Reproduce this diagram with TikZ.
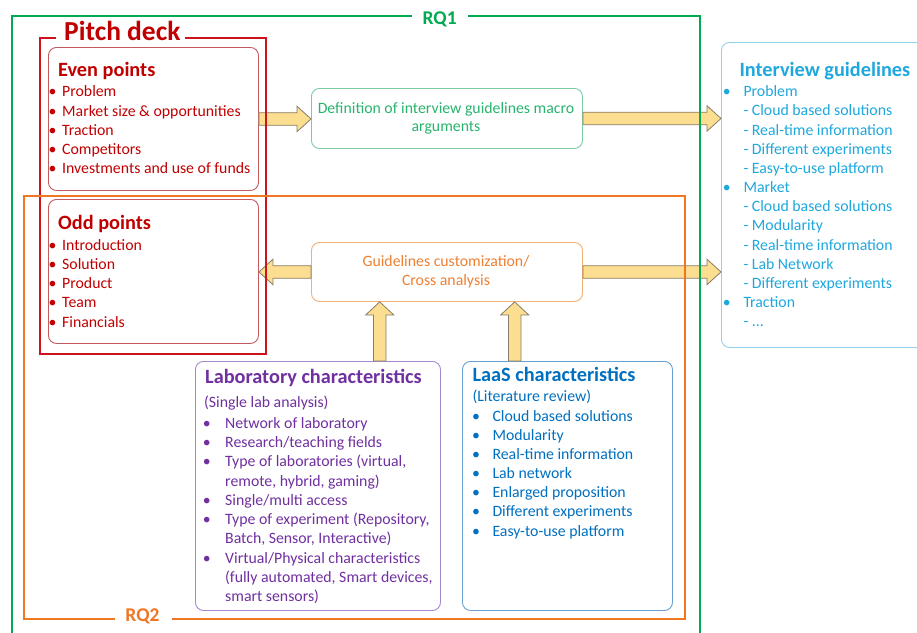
\documentclass[tikz,border=0pt]{standalone}
\usepackage{fontspec}
\setmainfont{Carlito}
\usetikzlibrary{calc}
\definecolor{rqgreen}{RGB}{0,170,80}
\definecolor{pdred}{RGB}{205,20,30}
\definecolor{tred}{RGB}{192,0,0}
\definecolor{evenb}{RGB}{195,90,95}
\definecolor{rqorange}{RGB}{240,118,35}
\definecolor{gorange}{RGB}{238,128,50}
\definecolor{gborder}{RGB}{245,175,115}
\definecolor{dgreen}{RGB}{40,180,110}
\definecolor{dborder}{RGB}{120,205,165}
\definecolor{tpurple}{RGB}{112,48,160}
\definecolor{bpurple}{RGB}{165,135,205}
\definecolor{tblue}{RGB}{0,112,192}
\definecolor{bblue}{RGB}{105,160,210}
\definecolor{tcyan}{RGB}{30,168,222}
\definecolor{bcyan}{RGB}{145,210,235}
\definecolor{arrowfill}{RGB}{252,222,145}
\definecolor{arrowdraw}{RGB}{135,125,105}
\tikzset{
  frame/.style={line width=2.3pt},
  box/.style={draw, rounded corners=8pt, line width=0.9pt, fill=white, anchor=north west, inner sep=0pt},
  fat/.style={fill=arrowfill, draw=arrowdraw, line width=0.8pt, line join=miter},
  txt/.style={anchor=base west, inner sep=0pt, font=\fontsize{15.8}{18}\selectfont},
  ctxt/.style={anchor=base, inner sep=0pt, font=\fontsize{15.8}{18}\selectfont},
  bul/.style={anchor=base, inner sep=0pt, font=\fontsize{15.8}{18}\selectfont},
  ttl/.style={anchor=base west, inner sep=0pt, font=\fontsize{20.3}{24}\selectfont\bfseries},
  rqlab/.style={anchor=base, inner sep=0pt, font=\fontsize{19.5}{23}\selectfont\bfseries},
}
\newcommand\fatR[2]{\path[fat] let \p1=(#1),\p2=(#2) in
  (\x1,\y1+6.3pt) -- (\x2-14pt,\y1+6.3pt) -- (\x2-14pt,\y1+12.7pt) -- (\x2,\y1)
  -- (\x2-14pt,\y1-12.7pt) -- (\x2-14pt,\y1-6.3pt) -- (\x1,\y1-6.3pt) -- cycle;}
\newcommand\fatL[2]{\path[fat] let \p1=(#1),\p2=(#2) in
  (\x1,\y1+6.3pt) -- (\x2+14pt,\y1+6.3pt) -- (\x2+14pt,\y1+12.7pt) -- (\x2,\y1)
  -- (\x2+14pt,\y1-12.7pt) -- (\x2+14pt,\y1-6.3pt) -- (\x1,\y1-6.3pt) -- cycle;}
\newcommand\fatU[2]{\path[fat] let \p1=(#1),\p2=(#2) in
  (\x1-6.3pt,\y1) -- (\x1-6.3pt,\y2-13pt) -- (\x1-14pt,\y2-13pt) -- (\x1,\y2)
  -- (\x1+14pt,\y2-13pt) -- (\x1+6.3pt,\y2-13pt) -- (\x1+6.3pt,\y1) -- cycle;}
% list: #1 name, #2 bullet x, #3 text x, #4 first baseline, #5 step, #6 colour, #7 items
\newcommand\mylist[7]{%
  \foreach \k/\t [count=\i] in {#7}{%
    \pgfmathsetmacro\yy{#4+(\i-1)*#5}
    \node[txt, text=#6] (#1-\i) at (#3,\yy) {\t};
    \if\k b\node[bul, text=#6] (#1-b\i) at (#2,\yy) {\textbullet};\fi
  }}
\begin{document}
\begin{tikzpicture}[x=1pt,y=-1pt]
\useasboundingbox (0,0) rectangle (917,632);
\fill[white] (0,0) rectangle (917,632);

% boxes
\node[box, draw=evenb, minimum width=210pt, minimum height=143pt] (even) at (48,47) {};
\node[box, draw=evenb, minimum width=210pt, minimum height=144pt] (odd) at (48,199) {};
\node[box, draw=dborder, minimum width=271pt, minimum height=60pt] (def) at (311,88) {};
\node[box, draw=gborder, minimum width=271pt, minimum height=59pt] (guide) at (311,242) {};
\node[box, draw=bpurple, minimum width=245pt, minimum height=249pt] (lab) at (195,361) {};
\node[box, draw=bblue, minimum width=210pt, minimum height=249pt] (laas) at (462,361) {};
\node[box, draw=bcyan, minimum width=240pt, minimum height=305pt] (intv) at (721,42) {};

% arrows
\coordinate (labtop) at (379.7,361);
\coordinate (laastop) at (514.7,361);
\fatR{even.east}{def.west}
\fatR{def.east}{intv.west |- def.east}
\fatL{guide.west}{odd.east |- guide.west}
\fatR{guide.east}{intv.west |- guide.east}
\fatU{labtop}{labtop |- guide.south}
\fatU{laastop}{laastop |- guide.south}

% frames
\draw[frame, rqgreen] (411.7,15.7) -- (12,15.7) -- (12,640);
\draw[frame, rqgreen] (468.3,15.7) -- (700,15.7) -- (700,640);
\draw[frame, pdred] (56,38) -- (40,38) -- (40,354) -- (266,354) -- (266,38) -- (185,38);
\draw[frame, rqorange] (115,619) -- (24,619) -- (24,196) -- (685,196) -- (685,619) -- (171.7,619);

% frame labels
\node[rqlab, text=rqgreen] (rq1) at (439.7,24) {RQ1};
\node[rqlab, text=rqorange] (rq2) at (142.5,621) {RQ2};
\node[anchor=base west, inner sep=0pt, font=\fontsize{27.5}{30}\selectfont\bfseries, text=tred] (pitch) at (64,40) {Pitch deck};

% even points
\node[ttl, text=tred] (event) at (58,76.7) {Even points};
\mylist{ev}{52.5}{62}{96.7}{19.3}{tred}{b/Problem, b/{Market size \& opportunities}, b/Traction, b/Competitors, b/{Investments and use of funds}}

% odd points
\node[ttl, text=tred] (oddt) at (58,229.3) {Odd points};
\mylist{od}{52.5}{62}{250}{19.3}{tred}{b/Introduction, b/Solution, b/Product, b/Team, b/Financials}

% definition
\node[ctxt, text=dgreen] (def1) at (446,113.3) {Definition of interview guidelines macro};
\node[ctxt, text=dgreen] (def2) at (446,131.7) {arguments};

% guidelines
\node[ctxt, text=gorange] (g1) at (446,266) {Guidelines customization/};
\node[ctxt, text=gorange] (g2) at (446,285) {Cross analysis};

% laboratory
\node[ttl, text=tpurple] (labt) at (205,383.3) {Laboratory characteristics};
\node[txt, text=tpurple] (labs) at (204,407.7) {(Single lab analysis)};
\mylist{lb}{206.7}{225}{428.3}{19.27}{tpurple}{b/Network of laboratory, b/{Research/teaching fields}, b/{Type of laboratories (virtual,}, c/{remote, hybrid, gaming)}, b/{Single/multi access}, b/{Type of experiment (Repository,}, c/{Batch, Sensor, Interactive)}, b/{Virtual/Physical characteristics}, c/{(fully automated, Smart devices,}, c/{smart sensors)}}

% LaaS
\node[ttl, text=tblue] (laast) at (472.3,381) {LaaS characteristics};
\node[txt, text=tblue] (laass) at (472.3,401.7) {(Literature review)};
\mylist{ls}{476}{492.3}{421}{19.17}{tblue}{b/Cloud based solutions, b/Modularity, b/Real-time information, b/Lab network, b/Enlarged proposition, b/Different experiments, b/Easy-to-use platform}

% interview guidelines
\node[ttl, text=tcyan] (intvt) at (739.3,76) {Interview guidelines};
\mylist{iv}{726.7}{743.3}{96.7}{19.17}{tcyan}{b/Problem, c/- Cloud based solutions, c/- Real-time information, c/- Different experiments, c/- Easy-to-use platform, b/Market, c/- Cloud based solutions, c/- Modularity, c/- Real-time information, c/- Lab Network, c/- Different experiments, b/Traction, c/{- .\kern0pt.\kern0pt.}}
\end{tikzpicture}
\end{document}
